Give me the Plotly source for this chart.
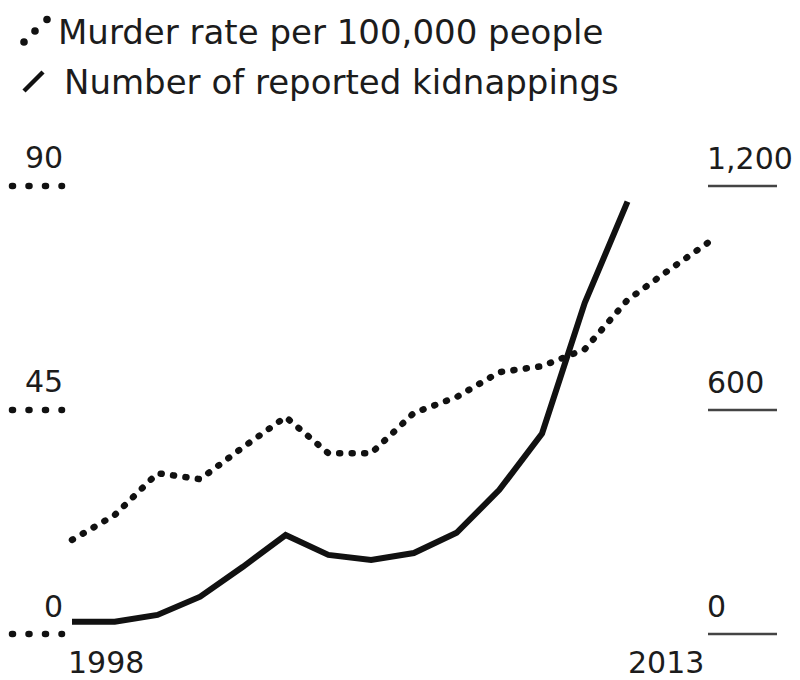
import plotly.graph_objects as go

# ---- data ----
years_murder = list(range(1998, 2014))
murder_rate = [18.9, 23.9, 32.3, 31.1, 37.5, 43.6, 36.3, 36.3, 44.4, 47.6, 52.6, 53.8, 57.2, 67.1, 73.3, 79.3]
years_kidnap = list(range(1998, 2012))
kidnappings = [33, 33, 51, 100, 180, 265, 212, 198, 217, 271, 386, 537, 887, 1158]
left_ticks = [0, 45, 90]
left_labels = ["0", "45", "90"]
right_ticks = [0, 600, 1200]
right_labels = ["0", "600", "1,200"]
x_label_years = [1998, 2013]
legend_texts = ["Murder rate per 100,000 people", "Number of reported kidnappings"]

W, H = 800, 680
FONT = "DejaVu Sans, Liberation Sans, Arial, sans-serif"
INK = "#111111"
TXT = "#1c1c1c"

def px(x):
    return x / W

def py(y):
    return 1 - y / H

fig = go.Figure()
fig.add_trace(go.Scatter(
    x=years_murder, y=murder_rate, mode="lines", yaxis="y",
    line=dict(color=INK, width=6.5, dash="1px,11.5px"), hoverinfo="skip", showlegend=False))
fig.add_trace(go.Scatter(
    x=years_kidnap, y=kidnappings, mode="lines", yaxis="y2",
    line=dict(color=INK, width=6), hoverinfo="skip", showlegend=False))

shapes = []
annotations = []
# left axis ticks (dotted) + labels
for v, lab in zip(left_ticks, left_labels):
    shapes.append(dict(type="line", xref="paper", yref="y", x0=px(12), x1=px(62), y0=v, y1=v,
                       line=dict(color=INK, width=6.5, dash="1px,15.5px")))
    annotations.append(dict(xref="paper", yref="y", x=px(64), y=v, yshift=28, text=lab,
                            showarrow=False, xanchor="right", yanchor="middle", borderpad=0,
                            font=dict(family=FONT, size=30, color=TXT)))
# right axis ticks (solid) + labels
for v, lab in zip(right_ticks, right_labels):
    shapes.append(dict(type="line", xref="paper", yref="y2", x0=px(708), x1=px(777), y0=v, y1=v,
                       line=dict(color="#444444", width=2.5)))
    annotations.append(dict(xref="paper", yref="y2", x=px(706), y=v, yshift=28, text=lab,
                            showarrow=False, xanchor="left", yanchor="middle", borderpad=0,
                            font=dict(family=FONT, size=30, color=TXT)))
# x labels
for yr, anchor in zip(x_label_years, ["left", "right"]):
    annotations.append(dict(xref="x", yref="paper", x=yr, y=py(662), text=str(yr),
                            xshift=-5 if anchor == "left" else -8,
                            showarrow=False, xanchor=anchor, yanchor="middle", borderpad=0,
                            font=dict(family=FONT, size=30, color=TXT)))
# legend
for i, txt in enumerate(legend_texts):
    annotations.append(dict(xref="paper", yref="paper", x=px(57 if i == 0 else 63), y=py(32 if i == 0 else 82),
                            text=txt, showarrow=False, xanchor="left", yanchor="middle", borderpad=0,
                            font=dict(family=FONT, size=34, color=TXT)))
# legend symbols
for cx, cy, r in [(24, 42, 3.8), (35, 31, 3.8), (47, 19.5, 3.8)]:
    shapes.append(dict(type="circle", xref="paper", yref="paper",
                       x0=px(cx - r), x1=px(cx + r), y0=py(cy + r), y1=py(cy - r),
                       fillcolor=INK, line=dict(width=0)))
shapes.append(dict(type="line", xref="paper", yref="paper", x0=px(24), y0=py(91), x1=px(43), y1=py(72),
                   line=dict(color=INK, width=4.5)))

fig.update_layout(
    width=W, height=H, margin=dict(l=0, r=0, t=0, b=0),
    paper_bgcolor="white", plot_bgcolor="white",
    xaxis=dict(range=[1996.315, 2015.037], visible=False, fixedrange=True),
    yaxis=dict(range=[-9.24, 127.36], visible=False, fixedrange=True),
    yaxis2=dict(range=[-123.2, 1698.2], visible=False, overlaying="y", fixedrange=True),
    shapes=shapes, annotations=annotations, showlegend=False,
)

post = """
document.body.style.margin = '0';
document.body.style.padding = '0';
document.body.style.overflow = 'hidden';
var gd = document.getElementById('{plot_id}');
function roundCaps(){
  gd.querySelectorAll('path').forEach(function(p){
    var d = p.style.strokeDasharray;
    if (d && d !== 'none' && d !== '') { p.style.strokeLinecap = 'round'; }
  });
}
roundCaps();
if (gd.on) { gd.on('plotly_afterplot', roundCaps); }
setTimeout(roundCaps, 50);
"""
fig.write_html("out.html", post_script=post, config={"displayModeBar": False})
